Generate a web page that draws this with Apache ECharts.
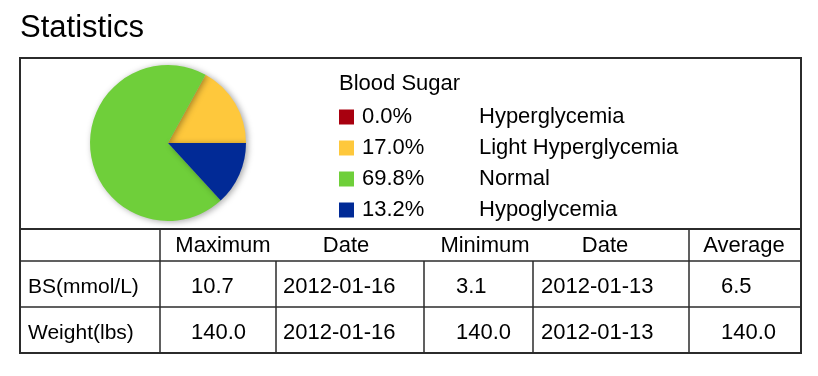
<!DOCTYPE html>
<html>
<head>
<meta charset="utf-8">
<script src="https://cdn.jsdelivr.net/npm/echarts@6/dist/echarts.min.js"></script>
<style>
  html, body { margin: 0; padding: 0; background: #fff; }
  #chartBox { width: 818px; height: 376px; }
</style>
</head>
<body>
<div id="chartBox"></div>
<script>
// 血糖分布（饼图 + 图例）
const bsNames = ['Hyperglycemia', 'Light Hyperglycemia', 'Normal', 'Hypoglycemia']
const bsPercents = [0.0, 17.0, 69.8, 13.2]
const bsColors = ['#a8000f', '#fec83c', '#6fcf3a', '#012a96']

// 下方统计表
const headers = ['Maximum', 'Date', 'Minimum', 'Date', 'Average']
const rowLabels = ['BS(mmol/L)', 'Weight(lbs)']
const maxValues = ['10.7', '140.0']
const maxDates = ['2012-01-16', '2012-01-16']
const minValues = ['3.1', '140.0']
const minDates = ['2012-01-13', '2012-01-13']
const avgValues = ['6.5', '140.0']

const FONT = '"Liberation Sans", Arial, Helvetica, sans-serif'
const LINE = '#2b2b2b'

// 表格位置
const headerCenters = [223, 346, 485, 605, 744]
const cellLefts = [28, 191, 283, 456, 541, 721]
const rowCenters = [287, 333]

const graphics = []

function addLine (x1, y1, x2, y2, w) {
  graphics.push({
    type: 'line',
    shape: { x1: x1, y1: y1, x2: x2, y2: y2 },
    style: { stroke: LINE, lineWidth: w || 1.5 },
    silent: true
  })
}

function addText (text, x, y, size, align) {
  graphics.push({
    type: 'text',
    style: {
      text: text,
      x: x,
      y: y,
      font: size + 'px ' + FONT,
      fill: '#000',
      textAlign: align || 'left',
      textVerticalAlign: 'middle'
    },
    silent: true
  })
}

// 标题
addText('Statistics', 20, 28, 31)
addText('Blood Sugar', 339, 84, 22)

// 外框
graphics.push({
  type: 'rect',
  shape: { x: 20, y: 58, width: 781, height: 295 },
  style: { fill: 'none', stroke: LINE, lineWidth: 2 },
  silent: true
})
// 横线
addLine(20, 229, 801, 229, 2)
addLine(20, 261, 801, 261)
addLine(20, 307, 801, 307)
// 竖线
addLine(160, 229, 160, 353)
addLine(689, 229, 689, 353)
addLine(276, 261, 276, 353)
addLine(424, 261, 424, 353)
addLine(533, 261, 533, 353)

// 表头
headers.forEach(function (h, i) {
  addText(h, headerCenters[i], 246, 22, 'center')
})
// 表内数据
const columns = [rowLabels, maxValues, maxDates, minValues, minDates, avgValues]
columns.forEach(function (col, c) {
  col.forEach(function (v, r) {
    addText(v, cellLefts[c], rowCenters[r], c === 0 ? 21 : 22, 'left')
  })
})

const option = {
  animation: false,
  color: bsColors,
  legend: {
    orient: 'vertical',
    left: 334,
    top: 101,
    icon: 'rect',
    itemWidth: 15,
    itemHeight: 15,
    itemGap: 9,
    selectedMode: false,
    data: bsNames,
    formatter: function (name) {
      const i = bsNames.indexOf(name)
      return '{p|' + bsPercents[i].toFixed(1) + '%}{n|' + name + '}'
    },
    textStyle: {
      rich: {
        p: { width: 117, fontSize: 22, fontFamily: FONT, color: '#000', lineHeight: 20, padding: [0, 0, 0, 3] },
        n: { fontSize: 22, fontFamily: FONT, color: '#000', lineHeight: 20 }
      }
    }
  },
  series: [{
    type: 'pie',
    center: [168, 143],
    radius: 78,
    startAngle: 0,
    clockwise: false,
    label: { show: false },
    labelLine: { show: false },
    emphasis: { disabled: true },
    silent: true,
    itemStyle: {
      borderWidth: 0,
      shadowBlur: 6,
      shadowOffsetX: 2,
      shadowOffsetY: 1,
      shadowColor: 'rgba(0, 0, 0, 0.35)'
    },
    data: bsNames.map(function (n, i) {
      return { name: n, value: bsPercents[i] }
    })
  }],
  graphic: graphics
}

const myEcharts = echarts.init(document.getElementById('chartBox'))
myEcharts.setOption(option)
</script>
</body>
</html>
